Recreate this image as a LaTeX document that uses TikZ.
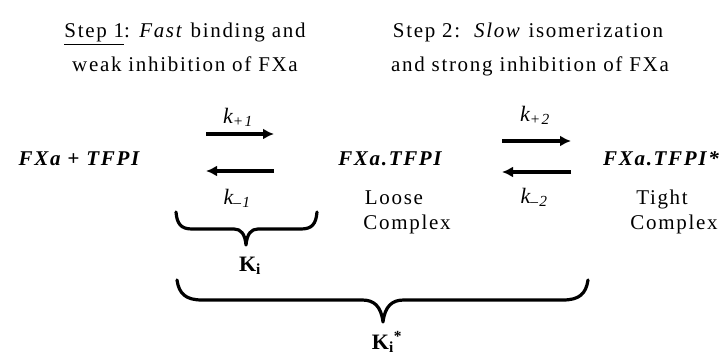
\documentclass[tikz,border=0pt]{standalone}
\usepackage{fontspec}
\setmainfont{Liberation Serif}[LetterSpace=8]
\usetikzlibrary{arrows.meta}
\begin{document}
\begin{tikzpicture}[x=1pt,y=-1pt,
  txt/.style={inner sep=0pt,anchor=base,font=\fontsize{21}{25}\selectfont},
  spec/.style={inner sep=0pt,anchor=base,font=\fontsize{21}{25}\selectfont\bfseries\itshape},
  rate/.style={inner sep=0pt,font=\fontsize{22}{26}\selectfont\itshape},
  eq/.style={inner sep=0pt,font=\fontsize{22}{26}\selectfont\bfseries},
  rxn/.style={line width=3.4pt,-{Latex[length=11pt,width=11pt]}},
  brc/.style={line width=3.2pt,line cap=round,line join=round}]
\useasboundingbox (0,0) rectangle (723,358);
% headings
\node[txt] (s1a) at (185,38) {\underline{Step 1}: \textit{Fast} binding and};
\node[txt] (s1b) at (185,72) {weak inhibition of FXa};
\node[txt] (s2a) at (528,38) {Step 2:\ \ \textit{Slow} isomerization};
\node[txt] (s2b) at (530,72) {and strong inhibition of FXa};
% species
\node[spec] (A) at (79,166) {FXa + TFPI};
\node[spec] (B) at (390,166) {FXa.TFPI};
\node[spec] (C) at (661,166) {FXa.TFPI*};
\node[txt] (Bl1) at (394,205) {Loose};
\node[txt] (Bl2) at (407,230) {Complex};
\node[txt] (Cl1) at (662,205) {Tight};
\node[txt] (Cl2) at (674,230) {Complex};
% arrows
\coordinate (a1s) at (206,134); \coordinate (a1e) at (274,134);
\coordinate (b1s) at (274,171); \coordinate (b1e) at (206,171);
\coordinate (a2s) at (502,141); \coordinate (a2e) at (571,141);
\coordinate (b2s) at (571,172); \coordinate (b2e) at (502,172);
\draw[rxn] (a1s) -- (a1e);
\draw[rxn] (b1s) -- (b1e);
\draw[rxn] (a2s) -- (a2e);
\draw[rxn] (b2s) -- (b2e);
\node[rate] (kp1) at (238,117) {k\textsubscript{+1}};
\node[rate] (km1) at (237,198) {k\textsubscript{–1}};
\node[rate] (kp2) at (535,115) {k\textsubscript{+2}};
\node[rate] (km2) at (534,197) {k\textsubscript{–2}};
% braces
\coordinate (br1l) at (176,212); \coordinate (br1t) at (246,245); \coordinate (br1r) at (317,212);
\coordinate (br2l) at (177,280); \coordinate (br2t) at (383,322); \coordinate (br2r) at (588,280);
\draw[brc] (br1l) .. controls (177,224) and (181,229) .. (192,229) -- (234,229)
  .. controls (241,229) and (245,234) .. (br1t)
  .. controls (247,234) and (251,229) .. (258,229) -- (301,229)
  .. controls (312,229) and (316,224) .. (br1r);
\draw[brc] (br2l) .. controls (179,294) and (186,300) .. (202,300) -- (362,300)
  .. controls (374,300) and (381,306) .. (br2t)
  .. controls (385,306) and (392,300) .. (404,300) -- (563,300)
  .. controls (579,300) and (586,294) .. (br2r);
\node[eq] (Ki) at (250,266) {K\textsubscript{i}};
\node[eq] (Kis) at (387,342) {K\textsubscript{i}\textsuperscript{*}};
\end{tikzpicture}
\end{document}
